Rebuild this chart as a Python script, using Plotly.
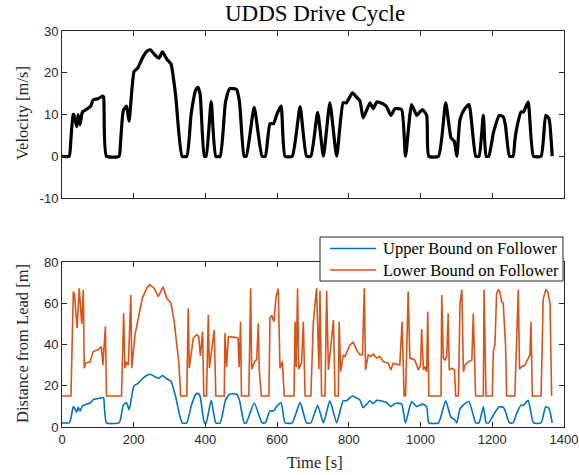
import plotly.graph_objects as go

# ---------------- data ----------------
time_s = [0,20,24,31,33,41,45,50,57,64,
          73,80,87,101,113,116,124,159,163,171,
          180,187,201,211,224,236,246,259,270,280,
          292,304,317,335,348,360,373,379,385,397,
          402,416,429,441,456,468,487,495,508,514,
          536,558,567,580,590,599,611,622,642,664,
          682,694,713,729,747,766,784,793,810,819,
          831,840,859,868,878,894,905,917,929,947,
          958,975,989,994,1005,1017,1023,1050,1070,1085,
          1094,1101,1110,1122,1135,1154,1163,1175,1183,1190,
          1203,1207,1219,1231,1237,1248,1258,1263,1270,1280,
          1287,1300,1315,1336,1349,1358,1367]

velocity = [0,0,3,10,10,7.1,10,7.5,10.6,11,
            11.5,12,13.5,13.8,14.4,14.2,0,0,3,10.9,
            12,8.4,20.3,21.1,23.5,25.1,25.5,24.3,23.5,25,
            23.3,22.1,14.5,0,0,10,15.9,16.5,15,0,
            0,13.1,0,0,13,16.2,16,13,0,0,
            11.7,0,0,7.8,7.8,10,12,0,0,11.9,
            0,0,10.5,0,12.8,0,12.8,12.8,15.2,14.4,
            13.2,9.2,12.8,11.4,13,12.6,11.9,9.8,11.4,11.2,
            0,12.4,9.8,10.2,11.2,9.8,0,0,12.8,4.4,
            3.6,0,8.8,11.2,12.4,0,0,9.8,0,0,
            5.6,6.8,9.8,9.4,7.2,0,0,3.9,7.5,10.6,
            10.6,13,0,0,9.8,9,0]

upper_bound = [2,2,3.5,9.6,9.8,7.2,9.6,7.6,10.2,10.8,
               11.3,11.8,13.3,13.8,14.3,14.2,2,2,3.5,10.6,
               11.8,8.4,20,21,23.4,25,25.6,24.4,23.6,25,
               23.4,22.2,14.6,2,2,10,15.8,16.3,15,2,
               2,13,2,2,13,16,15.9,13,2,2,
               11.6,2,2,7.8,7.8,10,11.9,2,2,11.8,
               2,2,10.4,2,12.7,2,12.7,12.7,15,14.3,
               13.1,9.3,12.7,11.4,12.9,12.5,11.9,9.9,11.4,11.2,
               2,12.3,9.9,10.2,11.1,9.9,2,2,12.7,4.6,
               3.8,2,8.8,11.1,12.3,2,2,9.8,2,2,
               5.7,6.9,9.8,9.5,7.3,2,2,4,7.5,10.5,
               10.5,12.9,2,2,9.8,9.1,2]

lower_t_a = [0,25,31.6,35,42,48,55,59.5,62,66,78,87,101,110,114,121,124]
lower_d_a = [15,15,65.7,64,47.9,67.3,50,66.5,28.5,31,31.5,36.6,37.4,39,30,48.7,15]
lower_t_b = [166,172,175.5,180,185,192,194.5,203.5,213,224,236,245,257,268.5,282,292,304,313,326,331]
lower_d_b = [15,55.2,28.5,31.5,30,64,28.5,44.7,53,62.5,67.3,69,67.3,63.2,68,62.5,60,51,31,15]
lower_t_c = [348,352,355,366,375.5,381,386,392,395.5,403,408,411,424.5,427,429,452.5,454.5,459,464,487,491,494,498,500.5]
lower_d_c = [15,57.6,28.5,43,44.7,44,34.5,46.3,15,15,54.4,28.5,47,29,15,15,45.5,29,43.8,43.4,43,29,51,15]
lower_t_d = [521,526,529,538,543,547.5,550,556,577,580,585,591,597,603,608,614.5,620,647,650,653,657,660,668,673,678]
lower_d_d = [15,67.3,28,32,32.6,50.3,28,15,15,53,54,51,63.3,67,28.5,31.7,15,15,51,29,67.3,28,31,51,15]
lower_t_e = [694,701,710,716.5,719.5,724,733.5,738,743,757,761.5,770.5,773,777,784.5,789,803,812,821.5,830.5,
             838,843,846.5,854,861.5,868,877,886,896,910,917,924,942,948.5,954]
lower_d_e = [15,51,67.3,28,66,15,15,66,27.7,51.9,15,15,51,26.8,35,34.2,39.8,41.1,37.4,35,
             35,67.3,27.7,35,34.2,35.3,33.4,34.2,31.7,30.9,27.7,30.9,30.1,51,15]
lower_t_f = [958,965.5,970,984,994,1000,1003,1008,1012,1017,1020,1023]
lower_d_f = [15,65.7,33.4,32.5,27.7,30,47.5,27.7,29.3,26.8,56,15]
lower_t_g = [1057,1059,1063.5,1068,1073,1077,1080,1087,1094.5,1098,1105.5,1110,1115,1119.5,1124,1133.5,1143,1147,1150,1153.5]
lower_d_g = [15,64,33.4,32.5,34.2,55,27.7,28.5,27.7,15,15,60,66.5,26.8,30,31.7,32.5,55,27.7,15]
lower_t_h = [1175,1177,1182.5,1200,1203,1207.5,1212,1216.5,1221,1226,1230.5,1237,1240,1263,1272.5,1276,1280,1291,1305,1308,1311.5,
             1336,1342,1349,1354.5,1361,1365.5]
lower_d_h = [15,66.5,15,15,36.7,40,64.8,66.5,65.7,60.8,60,40,15,15,66.5,28,29,30,35,51,15,
             15,62,66.5,65.7,60,15]

lower_t = lower_t_a + lower_t_b + lower_t_c + lower_t_d + lower_t_e + lower_t_f + lower_t_g + lower_t_h
lower_bound = lower_d_a + lower_d_b + lower_d_c + lower_d_d + lower_d_e + lower_d_f + lower_d_g + lower_d_h

x_ticks = [0, 200, 400, 600, 800, 1000, 1200, 1400]
vel_ticks = [-10, 0, 10, 20, 30]
vel_tick_text = ["-10", "0", "10", "20", "30"]
dist_ticks = [0, 20, 40, 60, 80]

series_names = ["Upper Bound on Follower", "Lower Bound on Follower"]
series_colors = ["#0072BD", "#D95319"]

# ---------------- figure ----------------
W, H = 579, 475
AX = "#262626"
SERIF = "Liberation Serif, DejaVu Serif, serif"
SANS = "Liberation Sans, Arial, sans-serif"

def px_x(p):
    return p / W

def px_y(p):
    return 1 - p / H

fig = go.Figure()

fig.add_trace(go.Scatter(x=time_s, y=velocity, mode="lines",
                         line=dict(color="black", width=3.2, shape="spline", smoothing=0.5),
                         showlegend=False, xaxis="x", yaxis="y"))
fig.add_trace(go.Scatter(x=time_s, y=upper_bound, mode="lines", name=series_names[0],
                         line=dict(color=series_colors[0], width=1.6, shape="spline", smoothing=0.5),
                         showlegend=False, xaxis="x2", yaxis="y2"))
fig.add_trace(go.Scatter(x=lower_t, y=lower_bound, mode="lines", name=series_names[1],
                         line=dict(color=series_colors[1], width=1.6),
                         showlegend=False, xaxis="x2", yaxis="y2"))

xdom = [px_x(62), px_x(564)]
common_axis = dict(showline=True, linecolor=AX, linewidth=1, mirror="ticks", automargin=False,
                   ticks="inside", ticklen=5, tickcolor=AX, showgrid=False, zeroline=False,
                   tickfont=dict(family=SANS, size=13, color=AX))

fig.update_layout(
    template="none",
    width=W, height=H,
    margin=dict(l=0, r=0, t=0, b=0, pad=0, autoexpand=False),
    paper_bgcolor="white", plot_bgcolor="white",
    xaxis=dict(domain=xdom, range=[0, 1400], tickvals=x_ticks, showticklabels=False,
               anchor="y", **common_axis),
    yaxis=dict(domain=[px_y(198), px_y(31)], range=[-10, 30], tickvals=vel_ticks,
               ticktext=vel_tick_text, anchor="x", **common_axis),
    xaxis2=dict(domain=xdom, range=[0, 1400], tickvals=x_ticks, anchor="y2", **common_axis),
    yaxis2=dict(domain=[px_y(427), px_y(262)], range=[0, 80], tickvals=dist_ticks,
                anchor="x2", **common_axis),
    showlegend=False,
)

# legend box (drawn in paper space, above the axes frame)
fig.add_shape(type="rect", xref="paper", yref="paper", layer="above",
              x0=px_x(320), x1=px_x(563), y0=px_y(281), y1=px_y(237),
              fillcolor="white", line=dict(color=AX, width=1))
for i, (name, col) in enumerate(zip(series_names, series_colors)):
    yy = px_y(248.5 + 21.5 * i)
    fig.add_shape(type="line", xref="paper", yref="paper", layer="above",
                  x0=px_x(330), x1=px_x(376), y0=yy, y1=yy, line=dict(color=col, width=1.6))
    fig.add_annotation(text=name, xref="paper", yref="paper", x=px_x(381), y=yy,
                       xanchor="left", yanchor="middle", showarrow=False,
                       font=dict(family=SERIF, size=16.5, color="black"))

annos = [
    dict(text="UDDS Drive Cycle", x=px_x(315), y=px_y(13), font=dict(family=SERIF, size=23, color="black")),
    dict(text="Velocity [m/s]", x=px_x(22), y=px_y(113), textangle=-90, font=dict(family=SERIF, size=16.5, color=AX)),
    dict(text="Distance from Lead [m]", x=px_x(22), y=px_y(344), textangle=-90, font=dict(family=SERIF, size=16.5, color=AX)),
    dict(text="Time [s]", x=px_x(315), y=px_y(462), font=dict(family=SERIF, size=16.5, color=AX)),
]
for a in annos:
    fig.add_annotation(xref="paper", yref="paper", showarrow=False, xanchor="center", yanchor="middle", **a)

fig.write_html("out.html")
